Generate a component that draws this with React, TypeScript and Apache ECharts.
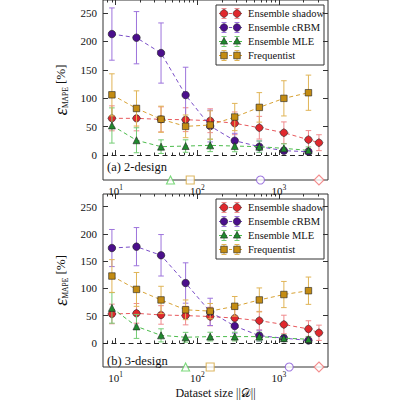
import React, { useEffect, useRef } from "react";
import * as echarts from "echarts";

// Dataset sizes |D| shared by all estimators
const sizes = [9, 18, 36, 72, 144, 288, 576, 1152, 2304];
const shadowSizes = [9, 18, 36, 72, 144, 288, 576, 1152, 2304, 3100];

// (a) 2-design — mean MAPE [%] and error-bar half widths
const shadowA = [64.6, 64.6, 62.8, 62.2, 60.4, 55.8, 48.1, 39.3, 27.0, 21.7];
const shadowErrA = [22, 22, 22, 21, 21, 20, 20, 19, 16, 14];
const crbmA = [213, 206.6, 179.6, 105.6, 51, 25.2, 14.7, 7.6, 5.9];
const crbmErrA = [46, 46, 53, 49, 28, 13, 10, 5, 4];
const mleA = [52, 26, 14.7, 15.8, 17, 15.8, 14.7, 11.7, 8.2];
const mleErrA = [31, 22, 12, 11, 11, 10, 10, 8, 6];
const freqA = [106, 82, 63, 50.5, 52.8, 66.9, 83.9, 99.8, 109.7];
const freqErrA = [37, 31, 23, 20, 25, 24, 26, 31, 31];
// threshold sizes drawn as hollow markers on the bottom axis: shadow, cRBM, MLE, Frequentist
const thresholdsA = [3100, 595, 47, 82];

// (b) 3-design
const shadowB = [53.2, 54.3, 51.4, 50.2, 48.5, 45.6, 40.9, 33.9, 25.7, 18.7];
const shadowErrB = [18, 18, 17, 17, 17, 17, 17, 17, 15, 14];
const crbmB = [174, 176.5, 160.7, 109.9, 57, 31, 13.4, 8.8, 4.7];
const crbmErrB = [34, 35, 38, 37, 25, 13, 10, 5, 4];
const mleB = [64.3, 30.4, 14, 10.5, 11.7, 11.7, 11.7, 8.8, 7];
const mleErrB = [28, 22, 12, 9, 8, 8, 8, 6, 5];
const freqB = [122.7, 98.2, 78.9, 60.8, 58.4, 67.2, 78.9, 88.8, 95.8];
const freqErrB = [30, 31, 25, 18, 14, 18, 22, 24, 25];
const thresholdsB = [3100, 1340, 72, 144];

const seriesNames = ["Ensemble shadow", "Ensemble cRBM", "Ensemble MLE", "Frequentist"];
const panelLabels = ["(a) 2-design", "(b) 3-design"];
const yTicks = [0, 50, 100, 150, 200, 250];
const xMajorTicks = [10, 100, 1000];
const xMinorTicks = [8, 9, 20, 30, 40, 50, 60, 70, 80, 90, 200, 300, 400, 500, 600, 700, 800, 900, 2000, 3000];

// styling
const FONT = "Liberation Serif, Times New Roman, DejaVu Serif, serif";
const markerColors = ["#e0282d", "#4b0f8c", "#1f8a2e", "#c48c12"];
const lineColors = ["#e8585c", "#7a4ec8", "#4cbc4c", "#d8a233"];
const barColors = ["#f08a8d", "#9d74dc", "#74cc74", "#e0b456"];
const hollowColors = ["#f07272", "#8a5ad8", "#5ad05a", "#d4a53c"];
const SHADOW_PATH =
  "path://M0,-10 Q7.8,-7.8 10,0 Q7.8,7.8 0,10 Q-7.8,7.8 -10,0 Q-7.8,-7.8 0,-10 Z";
const markerSymbols = [SHADOW_PATH, "circle", "triangle", "rect"];
const markerSizes = [8, 7.5, 7, 6.5];
const hollowSymbols = ["diamond", "circle", "triangle", "rect"];
const hollowSizes = [10, 8, 8, 8];

// layout
const GRID_LEFT = 103;
const GRID_WIDTH = 225;
const GRID_HEIGHT = 180;
const GRID_TOPS = [0, 194];
const X_MIN = 7;
const X_MAX = 4000;
const Y_MIN = -44;
const Y_MAX = 273;

const panels = [
  {
    values: [shadowA, crbmA, mleA, freqA],
    errors: [shadowErrA, crbmErrA, mleErrA, freqErrA],
    thresholds: thresholdsA,
  },
  {
    values: [shadowB, crbmB, mleB, freqB],
    errors: [shadowErrB, crbmErrB, mleErrB, freqErrB],
    thresholds: thresholdsB,
  },
];

function xsFor(k: number) {
  return k === 0 ? shadowSizes : sizes;
}

function roundDiamondPoints(cx: number, cy: number, r: number) {
  const k = 0.78;
  const corners = [
    [0, -1],
    [1, 0],
    [0, 1],
    [-1, 0],
  ];
  const ctrls = [
    [k, -k],
    [k, k],
    [-k, k],
    [-k, -k],
  ];
  const pts: number[][] = [];
  for (let q = 0; q < 4; q++) {
    const p0 = corners[q];
    const p2 = corners[(q + 1) % 4];
    const c = ctrls[q];
    for (let i = 0; i < 8; i++) {
      const t = i / 8;
      const a = (1 - t) * (1 - t);
      const b = 2 * (1 - t) * t;
      const d = t * t;
      pts.push([cx + r * (a * p0[0] + b * c[0] + d * p2[0]), cy + r * (a * p0[1] + b * c[1] + d * p2[1])]);
    }
  }
  return pts;
}

function legendMarker(k: number, cx: number, cy: number) {
  const style = { fill: markerColors[k], stroke: "#222", lineWidth: 0.6 };
  if (k === 0) return { type: "polygon", shape: { points: roundDiamondPoints(cx, cy, 4) }, style };
  if (k === 1) return { type: "circle", shape: { cx, cy, r: 3.7 }, style };
  if (k === 2)
    return {
      type: "polygon",
      shape: { points: [[cx, cy - 4], [cx + 3.6, cy + 2.6], [cx - 3.6, cy + 2.6]] },
      style,
    };
  return { type: "rect", shape: { x: cx - 3.3, y: cy - 3.3, width: 6.6, height: 6.6 }, style };
}

function legendGroup(top: number) {
  const left = 216;
  const children: any[] = [
    {
      type: "rect",
      shape: { x: left, y: top, width: 108, height: 60 },
      style: { fill: "#fff", stroke: "#333", lineWidth: 1 },
    },
  ];
  seriesNames.forEach((name, k) => {
    const y = top + 8.5 + k * 14;
    const x1 = left + 8;
    const x2 = left + 21;
    children.push({
      type: "line",
      shape: { x1: left + 3, y1: y, x2: left + 27, y2: y },
      style: { stroke: lineColors[k], lineWidth: 1, lineDash: [3, 2] },
    });
    [x1, x2].forEach((x) => {
      const s = { stroke: barColors[k], lineWidth: 1 };
      children.push({ type: "line", shape: { x1: x, y1: y - 5, x2: x, y2: y + 5 }, style: s });
      children.push({ type: "line", shape: { x1: x - 2.5, y1: y - 5, x2: x + 2.5, y2: y - 5 }, style: s });
      children.push({ type: "line", shape: { x1: x - 2.5, y1: y + 5, x2: x + 2.5, y2: y + 5 }, style: s });
      children.push(legendMarker(k, x, y));
    });
    children.push({
      type: "text",
      x: left + 32,
      y,
      style: {
        text: name,
        fontFamily: FONT,
        fontSize: 10.5,
        fill: "#111",
        verticalAlign: "middle",
      },
    });
  });
  return { type: "group", children };
}

function buildOption() {
  const grids = GRID_TOPS.map((top) => ({
    left: GRID_LEFT,
    top,
    width: GRID_WIDTH,
    height: GRID_HEIGHT,
    show: true,
    borderColor: "#333",
    borderWidth: 1,
    backgroundColor: "transparent",
  }));

  const xAxis: any[] = [];
  const yAxis: any[] = [];
  GRID_TOPS.forEach((_, g) => {
    const base = {
      type: "log",
      logBase: 10,
      gridIndex: g,
      min: X_MIN,
      max: X_MAX,
      axisLine: { show: false },
      splitLine: { show: false },
    };
    // main bottom axis with the decade labels
    xAxis.push({
      ...base,
      position: "bottom",
      axisTick: { inside: true, length: 5, customValues: xMajorTicks, lineStyle: { color: "#333" } },
      axisLabel: {
        margin: 3,
        customValues: xMajorTicks,
        formatter: (v: number) => `{b|10}{s|${Math.round(Math.log10(v))}}`,
        rich: {
          b: { fontFamily: FONT, fontSize: 11, color: "#111", lineHeight: 13, verticalAlign: "bottom" },
          s: { fontFamily: FONT, fontSize: 7.5, color: "#111", lineHeight: 13, verticalAlign: "top" },
        },
      },
      ...(g === 1
        ? {
            name: "Dataset size ||𝒟||",
            nameLocation: "middle",
            nameGap: 20,
            nameTextStyle: { fontFamily: FONT, fontSize: 12, color: "#111" },
          }
        : {}),
    });
    xAxis.push({
      ...base,
      position: "bottom",
      axisTick: { inside: true, length: 2.5, customValues: xMinorTicks, lineStyle: { color: "#333" } },
      axisLabel: { show: false },
    });
    xAxis.push({
      ...base,
      position: "top",
      axisTick: { inside: true, length: 5, customValues: xMajorTicks, lineStyle: { color: "#333" } },
      axisLabel: { show: false },
    });
    xAxis.push({
      ...base,
      position: "top",
      axisTick: { inside: true, length: 2.5, customValues: xMinorTicks, lineStyle: { color: "#333" } },
      axisLabel: { show: false },
    });

    const ybase = {
      type: "value",
      gridIndex: g,
      min: Y_MIN,
      max: Y_MAX,
      axisLine: { show: false },
      splitLine: { show: false },
    };
    yAxis.push({
      ...ybase,
      position: "left",
      axisTick: { inside: true, length: 5, customValues: yTicks, lineStyle: { color: "#333" } },
      axisLabel: {
        customValues: yTicks,
        margin: 6,
        fontFamily: FONT,
        fontSize: 11,
        color: "#111",
      },
      name: "{e|ε}{s|MAPE}{n| [%]}",
      nameLocation: "middle",
      nameRotate: 90,
      nameGap: 19,
      nameTextStyle: {
        rich: {
          e: { fontFamily: FONT, fontStyle: "italic", fontSize: 19, color: "#111", verticalAlign: "middle", lineHeight: 18 },
          s: { fontFamily: FONT, fontSize: 7.5, color: "#111", verticalAlign: "bottom", lineHeight: 15 },
          n: { fontFamily: FONT, fontSize: 13, color: "#111", verticalAlign: "middle", lineHeight: 18 },
        },
      },
    });
    yAxis.push({
      ...ybase,
      position: "right",
      axisTick: { inside: true, length: 5, customValues: yTicks, lineStyle: { color: "#333" } },
      axisLabel: { show: false },
    });
  });

  const series: any[] = [];
  panels.forEach((panel, g) => {
    const xi = g * 4;
    const yi = g * 2;
    panel.values.forEach((vals, k) => {
      const xs = xsFor(k);
      const errs = panel.errors[k];
      const barColor = barColors[k];
      series.push({
        type: "custom",
        name: seriesNames[k] + " error",
        xAxisIndex: xi,
        yAxisIndex: yi,
        z: 2 + k,
        silent: true,
        data: vals.map((v, i) => [xs[i], v - errs[i], v + errs[i]]),
        encode: { x: 0, y: [1, 2] },
        renderItem: (_params: any, api: any) => {
          const x = api.value(0);
          const lo = api.coord([x, api.value(1)]);
          const hi = api.coord([x, api.value(2)]);
          const hw = 2.8;
          const style = { stroke: barColor, lineWidth: 1, fill: "none" };
          return {
            type: "group",
            children: [
              { type: "line", shape: { x1: lo[0], y1: lo[1], x2: hi[0], y2: hi[1] }, style },
              { type: "line", shape: { x1: lo[0] - hw, y1: lo[1], x2: lo[0] + hw, y2: lo[1] }, style },
              { type: "line", shape: { x1: hi[0] - hw, y1: hi[1], x2: hi[0] + hw, y2: hi[1] }, style },
            ],
          };
        },
      });
      series.push({
        type: "line",
        name: seriesNames[k],
        xAxisIndex: xi,
        yAxisIndex: yi,
        z: 3 + k,
        data: vals.map((v, i) => [xs[i], v]),
        symbol: markerSymbols[k],
        symbolSize: markerSizes[k],
        showAllSymbol: true,
        itemStyle: { color: markerColors[k], borderColor: "#222", borderWidth: 0.6 },
        lineStyle: { color: lineColors[k], width: 1, type: [4, 3] },
        ...(k === 0
          ? {
              markLine: {
                silent: true,
                symbol: "none",
                label: { show: false },
                data: [{ yAxis: 0 }],
                lineStyle: { color: "#222", width: 1, type: [5, 3.5] },
              },
            }
          : {}),
      });
    });
    series.push({
      type: "scatter",
      name: "thresholds",
      xAxisIndex: xi,
      yAxisIndex: yi,
      z: 10,
      clip: false,
      silent: true,
      data: panel.thresholds.map((t, k) => ({
        value: [t, Y_MIN],
        symbol: hollowSymbols[k],
        symbolSize: hollowSizes[k],
        itemStyle: { color: "#fff", borderColor: hollowColors[k], borderWidth: 1.1 },
      })),
    });
  });

  const graphic: any[] = [];
  GRID_TOPS.forEach((top, g) => {
    graphic.push(legendGroup(top + 5));
    graphic.push({
      type: "text",
      x: GRID_LEFT + 4,
      y: top + 167,
      style: {
        text: panelLabels[g],
        fontFamily: FONT,
        fontSize: 12.5,
        fill: "#111",
        verticalAlign: "middle",
      },
      z: 20,
    });
  });

  return {
    animation: false,
    backgroundColor: "#fff",
    grid: grids,
    xAxis,
    yAxis,
    series,
    graphic,
  };
}

export default function App() {
  const ref = useRef<HTMLDivElement>(null);
  useEffect(() => {
    if (!ref.current) return;
    const chart = echarts.init(ref.current, undefined, { renderer: "svg", width: 400, height: 400 });
    chart.setOption(buildOption() as any);
    return () => chart.dispose();
  }, []);
  return (
    <div
      ref={ref}
      style={{ position: "absolute", left: 0, top: 0, width: 400, height: 400, background: "#fff" }}
    />
  );
}
